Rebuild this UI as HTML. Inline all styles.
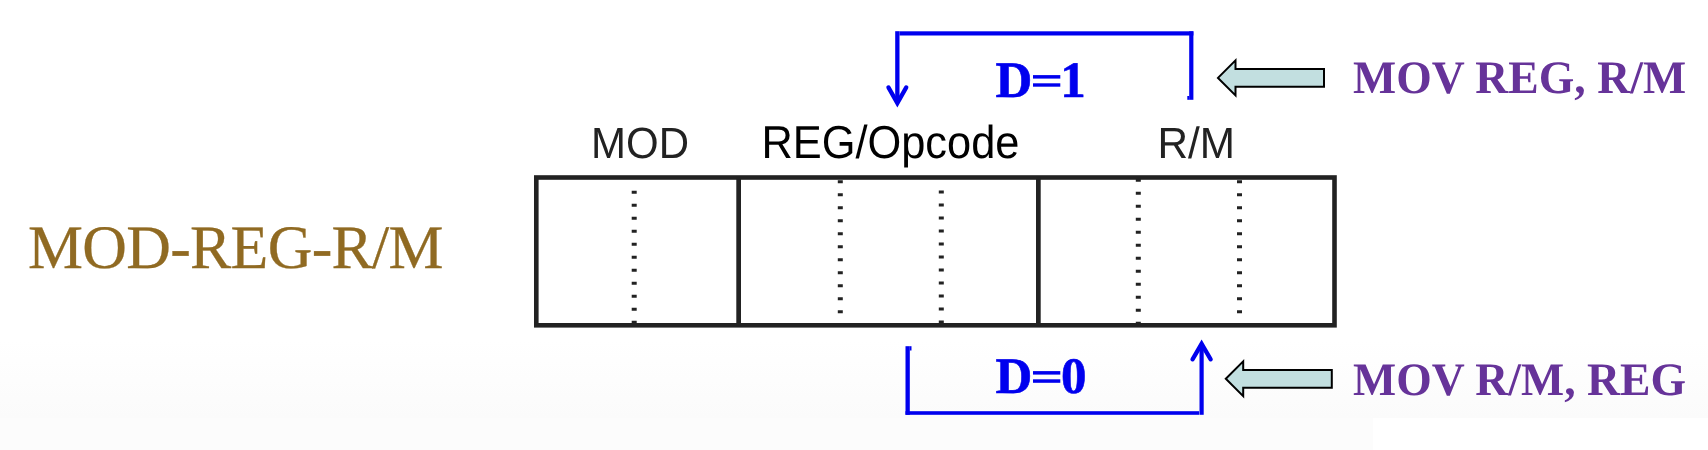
<!DOCTYPE html>
<html><head><meta charset="utf-8">
<style>
html,body{margin:0;padding:0;width:1708px;height:450px;overflow:hidden;background:#fff;}
svg{display:block;position:absolute;left:0;top:0;will-change:transform;text-rendering:geometricPrecision;}
</style></head>
<body>
<svg width="1708" height="450" viewBox="0 0 1708 450">
<defs>
<linearGradient id="bg" x1="0" y1="0" x2="0" y2="1">
<stop offset="0" stop-color="#ffffff"/>
<stop offset="1" stop-color="#fbfbfb"/>
</linearGradient>
</defs>
<rect x="0" y="340" width="1708" height="78" fill="url(#bg)"/>
<rect x="0" y="418" width="1373" height="32" fill="#fcfcfc"/>

<!-- left title -->
<text x="28.0" y="267.8" font-family="'Liberation Serif', serif" font-size="61.8" textLength="415.5" lengthAdjust="spacing" fill="#906A22" stroke="#906A22" stroke-width="0.3">MOD-REG-R/M</text>

<!-- labels -->
<text x="591.1" y="158" transform="translate(0 158) scale(1 1.04) translate(0 -158)" font-family="'Liberation Sans', sans-serif" font-size="42" fill="#222">MOD</text>
<text x="761.4" y="158" transform="translate(0 158) scale(1 1.065) translate(0 -158)" font-family="'Liberation Sans', sans-serif" font-size="43.4" fill="#000">REG/Opcode</text>
<text x="1157.5" y="157.8" transform="translate(0 157.8) scale(1 1.035) translate(0 -157.8)" font-family="'Liberation Sans', sans-serif" font-size="42.3" fill="#222">R/M</text>

<!-- box -->
<rect x="536.3" y="177.5" width="798.2" height="147.8" fill="none" stroke="#222" stroke-width="4.6"/>
<g fill="#222">
<rect x="736.3" y="177.5" width="4.7" height="147.8"/>
<rect x="1036" y="177.5" width="4.7" height="147.8"/>
</g>
<!-- dotted -->
<g stroke="#222" stroke-width="5" stroke-dasharray="3 10">
<line x1="634.2" y1="190.8" x2="634.2" y2="324"/>
<line x1="840.3" y1="180.2" x2="840.3" y2="313.2"/>
<line x1="941.3" y1="190.5" x2="941.3" y2="323.5"/>
<line x1="1138.3" y1="178.8" x2="1138.3" y2="324.8"/>
<line x1="1239.5" y1="180.2" x2="1239.5" y2="313.2"/>
</g>

<!-- blue top bracket -->
<g fill="#0000ee">
<rect x="895.2" y="31.2" width="4.3" height="71"/>
<rect x="899.5" y="31.3" width="293.9" height="4.2"/>
<rect x="1189.2" y="31.3" width="4.2" height="68.5"/>
<rect x="1187.3" y="96" width="2" height="3.8"/>
</g>
<path d="M888.5 87.5 L897.35 103.1 L906.2 87.5" stroke="#0000ee" stroke-width="4.4" fill="none" stroke-linecap="round" stroke-linejoin="miter"/>
<!-- blue bottom bracket -->
<g fill="#0000ee">
<rect x="905.5" y="346.2" width="4.3" height="68.6"/>
<rect x="909.8" y="346.2" width="1.7" height="4.3"/>
<rect x="905.5" y="411.2" width="293.6" height="3.6"/>
<rect x="1199.5" y="344" width="4.2" height="70.8"/>
</g>
<path d="M1192.6 359.25 L1201.6 343.9 L1210.6 359.25" stroke="#0000ee" stroke-width="4.4" fill="none" stroke-linecap="round" stroke-linejoin="miter"/>

<!-- D=1 -->
<g font-family="'Liberation Serif', serif" font-weight="bold" font-size="51" fill="#0000ee" stroke="#0000ee" stroke-width="0.6">
<text x="995.5" y="97.2">D</text>
<text x="1060.2" y="97.2">1</text>
<text x="995.5" y="393.2">D</text>
<text x="1060.9" y="393.2">0</text>
</g>
<g fill="#0000ee">
<rect x="1033" y="75.1" width="27.3" height="3.5"/>
<rect x="1033" y="83.3" width="27.3" height="3.4"/>
<rect x="1033" y="371.1" width="27.3" height="3.5"/>
<rect x="1033" y="379.3" width="27.3" height="3.5"/>
</g>

<!-- arrows -->
<path d="M1218 77.9 L1235.5 60.4 V69.1 H1324 V86.8 H1235.5 V95.4 Z" fill="#C2DFE0" stroke="#000" stroke-width="2"/>
<path d="M1225.8 378.8 L1243.2 361.4 V370.1 H1331.8 V387.8 H1243.2 V396.2 Z" fill="#C2DFE0" stroke="#000" stroke-width="2"/>

<text x="1353.1" y="92" transform="translate(0 92.8) scale(1 1.02) translate(0 -92)" font-family="'Liberation Serif', serif" font-weight="bold" font-size="45.7" fill="#663399">MOV REG, R/M</text>
<text x="1353.1" y="394" transform="translate(0 394.8) scale(1 1.02) translate(0 -394)" font-family="'Liberation Serif', serif" font-weight="bold" font-size="45.7" fill="#663399">MOV R/M, REG</text>
</svg>
</body></html>
